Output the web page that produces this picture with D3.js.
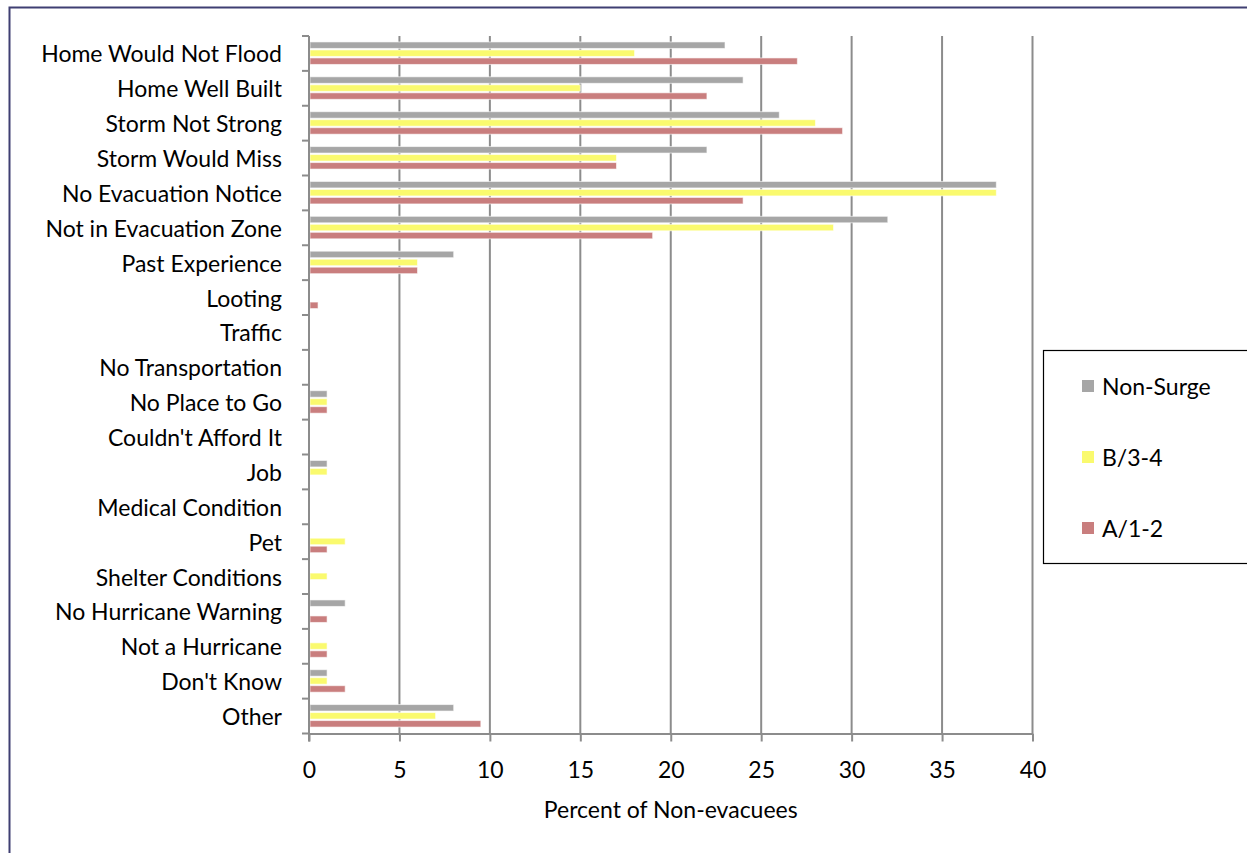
<!DOCTYPE html>
<html>
<head>
<meta charset="utf-8">
<script src="https://cdn.jsdelivr.net/npm/d3@7"></script>
<style>
  html, body { margin: 0; padding: 0; background: #fff; }
  svg { display: block; }
  text { font-family: Lato, "Open Sans", sans-serif; fill: #000; }
</style>
</head>
<body>
<svg id="chart" width="1247" height="853"></svg>
<script>
const categories = [
  "Home Would Not Flood", "Home Well Built", "Storm Not Strong", "Storm Would Miss",
  "No Evacuation Notice", "Not in Evacuation Zone", "Past Experience", "Looting",
  "Traffic", "No Transportation", "No Place to Go", "Couldn't Afford It", "Job",
  "Medical Condition", "Pet", "Shelter Conditions", "No Hurricane Warning",
  "Not a Hurricane", "Don't Know", "Other"
];
const seriesNames = ["Non-Surge", "B/3-4", "A/1-2"];
const nonSurge = [23, 24, 26, 22, 38, 32, 8, 0, 0, 0, 1, 0, 1, 0, 0, 0, 2, 0, 1, 8];
const b34      = [18, 15, 28, 17, 38, 29, 6, 0, 0, 0, 1, 0, 1, 0, 2, 1, 0, 1, 1, 7];
const a12      = [27, 22, 29.5, 17, 24, 19, 6, 0.5, 0, 0, 1, 0, 0, 0, 1, 0, 1, 1, 2, 9.5];
const xTicks = [0, 5, 10, 15, 20, 25, 30, 35, 40];
const xTitle = "Percent of Non-evacuees";
const colors = ["#a6a6a6", "#fafa6e", "#c97e7e"];

(function () {
const seriesValues = [nonSurge, b34, a12];
const svg = d3.select("#chart");
const fs = "23px";

// outer frame
svg.append("rect").attr("x", 9.5).attr("y", 7.5).attr("width", 1300).attr("height", 900)
  .attr("fill", "none").attr("stroke", "#3f3f72").attr("stroke-width", 2);

const pLeft = 309, pRight = 1032.5, pTop = 36, pBottom = 733.5;
const x = d3.scaleLinear().domain([0, 40]).range([pLeft, pRight]);
const y = d3.scaleBand().domain(categories).range([pTop, pBottom]).paddingInner(0).paddingOuter(0);
const ys = d3.scaleBand().domain(seriesNames).range([y.bandwidth()/2 - 12, y.bandwidth()/2 + 12]);

// gridlines
svg.append("g").selectAll("line").data(xTicks.filter(d => d > 0)).join("line")
  .attr("x1", d => x(d)).attr("x2", d => x(d)).attr("y1", pTop).attr("y2", pBottom)
  .attr("stroke", "#8c8c8c").attr("stroke-width", 2);

// bars
const groups = svg.append("g").selectAll("g").data(categories).join("g")
  .attr("transform", d => `translate(0,${y(d)})`);
groups.selectAll("rect").data((c, i) => seriesNames.map((s, j) => ({s, v: seriesValues[j][i], j})).filter(d => d.v > 0))
  .join("rect")
  .attr("x", x(0) + 1).attr("y", d => ys(d.s) + 0.5)
  .attr("width", d => x(d.v) - x(0) - 1).attr("height", ys.bandwidth() - 1.5)
  .attr("fill", d => colors[d.j])
  .attr("stroke", "#ffffff").attr("stroke-opacity", 0.6).attr("stroke-width", 1);

// x axis
const xAxis = svg.append("g").attr("transform", `translate(0,${pBottom})`)
  .call(d3.axisBottom(x).tickValues(xTicks).tickSize(8).tickPadding(20).tickSizeOuter(0));
xAxis.select(".domain").attr("stroke", "#8c8c8c").attr("stroke-width", 2);
xAxis.selectAll(".tick line").attr("stroke", "#8c8c8c").attr("stroke-width", 2);
xAxis.selectAll(".tick text").style("font-size", fs).style("font-family", "Lato, sans-serif").attr("fill", "#000");

// y axis
const tickPos = categories.map(c => y(c)).concat([pBottom]);
svg.append("line").attr("x1", pLeft).attr("x2", pLeft).attr("y1", pTop).attr("y2", pBottom + 8)
  .attr("stroke", "#8c8c8c").attr("stroke-width", 2);
svg.append("g").selectAll("line").data(tickPos).join("line")
  .attr("x1", pLeft - 7).attr("x2", pLeft).attr("y1", d => d).attr("y2", d => d)
  .attr("stroke", "#8c8c8c").attr("stroke-width", 2);
svg.append("g").selectAll("text").data(categories).join("text")
  .attr("x", 282).attr("y", d => y(d) + y.bandwidth()/2)
  .attr("text-anchor", "end").attr("dominant-baseline", "central")
  .style("font-size", fs).text(d => d);

// axis title
svg.append("text").attr("x", (pLeft + pRight)/2).attr("y", 809)
  .attr("text-anchor", "middle").attr("dominant-baseline", "central")
  .style("font-size", fs).text(xTitle);

// legend
const lg = svg.append("g");
lg.append("rect").attr("x", 1043.5).attr("y", 350.5).attr("width", 220).attr("height", 213)
  .attr("fill", "#fff").attr("stroke", "#000").attr("stroke-width", 1.2);
const legendY = [386, 457, 528];
seriesNames.forEach((s, i) => {
  lg.append("rect").attr("x", 1082).attr("y", legendY[i] - 6).attr("width", 12).attr("height", 12)
    .attr("fill", colors[i]);
  lg.append("text").attr("x", 1102).attr("y", legendY[i]).attr("dominant-baseline", "central")
    .style("font-size", fs).text(s);
});
})();
</script>
</body>
</html>
